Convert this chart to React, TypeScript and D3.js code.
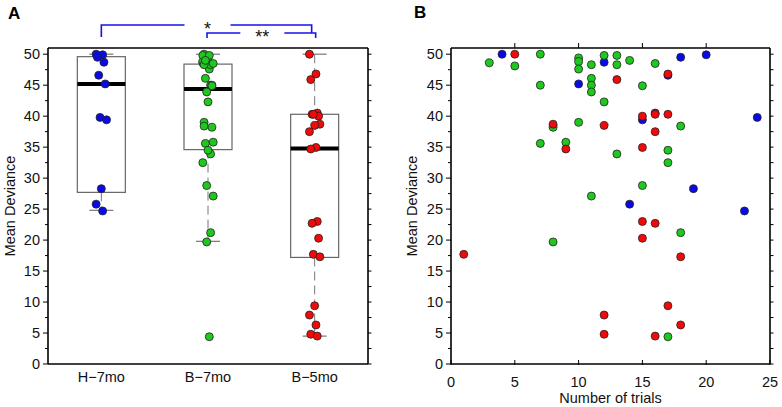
import React from "react";
import * as d3 from "d3";

// groups, as on the x axis of panel A (colour used in both panels)
const groups = ["H−7mo", "B−7mo", "B−5mo"];
const groupColors = ["#0a0ae6", "#1ec81e", "#f00a0a"];

// H-7mo (blue): number of trials / mean deviance
const hTrials = [4, 20, 18, 12, 17, 10, 24, 15, 19, 14, 23];
const hDeviance = [50, 49.9, 49.5, 48.7, 46.6, 45.2, 39.8, 39.4, 28.3, 25.8, 24.7];

// B-7mo (green)
const b7Trials = [3, 5, 7, 7, 7, 8, 8, 9, 10, 10, 10, 10, 11, 11, 11, 11, 11, 12, 12, 13, 13, 13, 14, 15, 15, 16, 17, 17, 17, 18, 18];
const b7Deviance = [48.6, 48.1, 50, 45, 35.6, 38.2, 19.7, 35.8, 49.4, 48.8, 47.6, 39.0, 48.3, 46.1, 45.0, 43.9, 27.1, 42.3, 49.8, 49.8, 48.3, 33.9, 49.0, 44.9, 28.8, 48.5, 34.5, 32.5, 4.4, 38.4, 21.2];

// B-5mo (red)
const b5Trials = [5, 17, 13, 16, 16, 15, 17, 8, 12, 16, 15, 9, 15, 16, 15, 1, 18, 17, 12, 18, 12, 16];
const b5Deviance = [50, 46.8, 45.9, 40.5, 40.3, 40.0, 40.3, 38.7, 38.5, 37.5, 34.95, 34.7, 23.0, 22.7, 20.3, 17.7, 17.3, 9.4, 7.9, 6.3, 4.8, 4.5];

// box plot summaries
const boxQ1 = [27.7, 34.6, 17.2];
const boxMedian = [45.2, 44.4, 34.8];
const boxQ3 = [49.6, 48.4, 40.3];
const whiskerLow = [24.8, 19.8, 4.5];
const whiskerHigh = [50, 50, 50];

// significance brackets
const compFrom = [0, 1];
const compTo = [2, 2];
const compLabels = ["*", "**"];

const yTicks = [0, 5, 10, 15, 20, 25, 30, 35, 40, 45, 50];
const xTicksB = [0, 5, 10, 15, 20, 25];

const trials = [hTrials, b7Trials, b5Trials];
const deviance = [hDeviance, b7Deviance, b5Deviance];

const W = 782;
const H = 407;
const font = "'Liberation Sans', Arial, sans-serif";
const fs = 14.5;

const top = 48;
const bottom = 364;

const App = () => {
  const y = d3.scaleLinear().domain([0, 51]).range([bottom, top]);
  const xA = d3.scaleBand().domain(groups).range([48, 368]);
  const xB = d3.scaleLinear().domain([0, 25]).range([451, 770]);
  const minor = d3.range(0, 51, 2.5);

  const boxW = xA.bandwidth() * 0.45;
  const cx = (i) => xA(groups[i]) + xA.bandwidth() / 2;
  // small fixed jitter so the dots in panel A don't sit on one line
  const jitter = (i) => (((i * 5) % 9) - 4) * 1.3;

  const yAxis = (x0, x1) => (
    <g>
      <line x1={x0} x2={x0} y1={top} y2={bottom} stroke="#000" strokeWidth={1.6} />
      <line x1={x1} x2={x1} y1={top} y2={bottom} stroke="#000" strokeWidth={1.6} />
      <line x1={x0} x2={x1} y1={top} y2={top} stroke="#000" strokeWidth={1.6} />
      <line x1={x0} x2={x1} y1={bottom} y2={bottom} stroke="#000" strokeWidth={1.6} />
      {minor.map((v) => {
        const len = v % 5 === 0 ? 5 : 3;
        return (
          <g key={v}>
            <line x1={x0 - len} x2={x0} y1={y(v)} y2={y(v)} stroke="#000" strokeWidth={1} />
            <line x1={x1} x2={x1 + 3.5} y1={y(v)} y2={y(v)} stroke="#000" strokeWidth={1} />
          </g>
        );
      })}
      {yTicks.map((v) => (
        <text key={v} x={x0 - 8} y={y(v)} dy="0.36em" textAnchor="end" fontSize={fs} fontFamily={font} fill="#111">
          {v}
        </text>
      ))}
    </g>
  );

  return (
    <svg width={W} height={H} style={{ position: "absolute", left: 0, top: 0, background: "#fff" }}>
      {/* ---------- panel A ---------- */}
      <text x={8} y={19} fontSize={17} fontWeight="bold" fontFamily={font}>A</text>
      <text transform={`translate(15,${(top + bottom) / 2}) rotate(-90)`} textAnchor="middle" fontSize={fs} fontFamily={font} fill="#111">
        Mean Deviance
      </text>

      {groups.map((g, i) => {
        const c = cx(i);
        return (
          <g key={g}>
            <line x1={c} x2={c} y1={y(whiskerHigh[i])} y2={y(boxQ3[i])} stroke="#777" strokeDasharray="9,5" />
            <line x1={c} x2={c} y1={y(boxQ1[i])} y2={y(whiskerLow[i])} stroke="#777" strokeDasharray="9,5" />
            <line x1={c - 12} x2={c + 12} y1={y(whiskerHigh[i])} y2={y(whiskerHigh[i])} stroke="#777" strokeWidth={1.2} />
            <line x1={c - 12} x2={c + 12} y1={y(whiskerLow[i])} y2={y(whiskerLow[i])} stroke="#777" strokeWidth={1.2} />
            <rect x={c - boxW / 2} y={y(boxQ3[i])} width={boxW} height={y(boxQ1[i]) - y(boxQ3[i])} fill="#fff" stroke="#666" strokeWidth={1.2} />
            <line x1={c - boxW / 2} x2={c + boxW / 2} y1={y(boxMedian[i])} y2={y(boxMedian[i])} stroke="#000" strokeWidth={4} />
            <text x={c} y={382} textAnchor="middle" fontSize={fs} fontFamily={font} fill="#111">{g}</text>
          </g>
        );
      })}
      {groups.map((g, i) =>
        deviance[i].map((d, j) => (
          <circle key={g + j} cx={cx(i) + jitter(j)} cy={y(d)} r={4} fill={groupColors[i]} stroke="#222" strokeWidth={0.8} />
        ))
      )}
      {yAxis(48, 368)}

      {compLabels.map((lab, k) => {
        const x0 = cx(compFrom[k]) + (k === 0 ? 0 : -1);
        const x1 = cx(compTo[k]) + (k === 0 ? -3 : 1);
        const by = k === 0 ? 25 : 33;
        const mid = (x0 + x1) / 2 + 1;
        const gap = k === 0 ? 23 : 22;
        return (
          <g key={lab} stroke="#1414e6" strokeWidth={1.6} fill="none">
            <polyline points={`${x0},${k === 0 ? 37 : 38} ${x0},${by} ${mid - gap},${by}`} />
            <polyline points={`${mid + gap},${by} ${x1},${by} ${x1},${k === 0 ? 33 : 38}`} />
            <text x={mid} y={k === 0 ? 35 : 43} textAnchor="middle" fontSize={18} fontFamily={font} fill="#111" stroke="none">
              {lab}
            </text>
          </g>
        );
      })}

      {/* ---------- panel B ---------- */}
      <text x={414} y={18} fontSize={17} fontWeight="bold" fontFamily={font}>B</text>
      <text transform={`translate(417,${(top + bottom) / 2}) rotate(-90)`} textAnchor="middle" fontSize={fs} fontFamily={font} fill="#111">
        Mean Deviance
      </text>
      {groups.map((g, i) =>
        deviance[i].map((d, j) => (
          <circle key={"b" + g + j} cx={xB(trials[i][j])} cy={y(d)} r={4} fill={groupColors[i]} stroke="#222" strokeWidth={0.8} />
        ))
      )}
      {yAxis(451, 770)}
      {xTicksB.map((v) => (
        <g key={v}>
          <line x1={xB(v)} x2={xB(v)} y1={bottom - 4} y2={bottom + 1} stroke="#000" strokeWidth={1} />
          {v > 0 && v < 25 && <line x1={xB(v)} x2={xB(v)} y1={top - 5} y2={top} stroke="#000" strokeWidth={1} />}
          <text x={xB(v)} y={387} textAnchor="middle" fontSize={fs} fontFamily={font} fill="#111">{v}</text>
        </g>
      ))}
      <text x={(451 + 770) / 2} y={403} textAnchor="middle" fontSize={fs} fontFamily={font} fill="#111">
        Number of trials
      </text>
    </svg>
  );
};

export default App;
